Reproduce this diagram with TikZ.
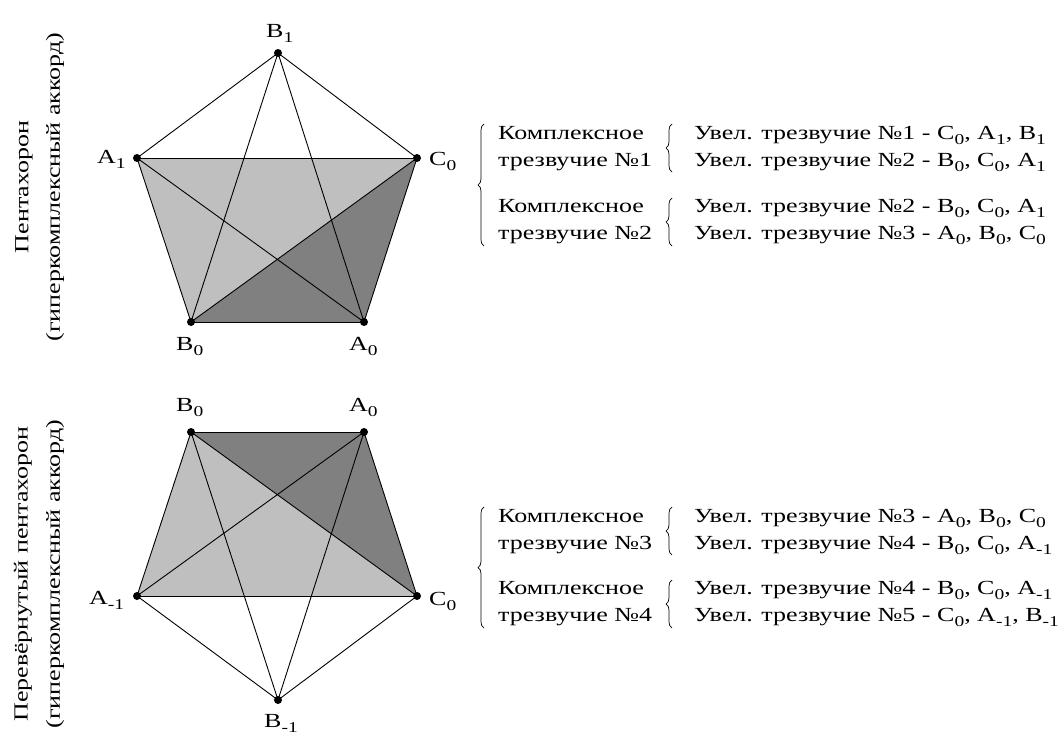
\documentclass[tikz,border=0pt]{standalone}
\usepackage{fontspec}
\setmainfont{Liberation Serif}
\usetikzlibrary{decorations.pathreplacing}
\newcommand\sbs[1]{\raisebox{-5pt}{\fontsize{15}{15}\selectfont #1}}
\newcommand\wide[1]{\scalebox{1.3}[1]{#1}}
\begin{document}
\begin{tikzpicture}[x=1pt,y=-1pt,
  lbl/.style={font=\fontsize{20}{22}\selectfont, inner sep=0pt, anchor=base west},
  txt/.style={font=\fontsize{20}{22}\selectfont, inner sep=0pt, anchor=base west, text height=13pt, text depth=5pt},
  vlbl/.style={font=\fontsize{20}{22}\selectfont, inner sep=0pt, rotate=90},
  edge/.style={line width=0.9pt, black},
  vdot/.style={circle, fill=black, inner sep=0pt, minimum size=8pt},
  brc/.style={decorate, decoration={brace, amplitude=6pt}, line width=0.7pt},
  light/.style={fill=black!25},
  dark/.style={fill=black!50}]
\useasboundingbox (0,0) rectangle (1062,737);
% ---------- top pentachoron
\coordinate (tB1) at (278,53);
\coordinate (tA1) at (137,158);
\coordinate (tC0) at (417,158);
\coordinate (tB0) at (191,322);
\coordinate (tA0) at (364,322);
\fill[light] (tA1) -- (tC0) -- (tB0) -- cycle;
\fill[dark] (tB0) -- (tA0) -- (tC0) -- cycle;
\foreach \a/\b in {tB1/tA1,tB1/tC0,tB1/tB0,tB1/tA0,tA1/tC0,tA1/tB0,tA1/tA0,tC0/tB0,tC0/tA0,tB0/tA0}
  \draw[edge] (\a) -- (\b);
\foreach \p in {tB1,tA1,tC0,tB0,tA0} \node[vdot] at (\p) {};
\node[lbl] (ltB1) at (266,37) {\wide{B\sbs{1}}};
\node[lbl] (ltA1) at (97,163) {\wide{A\sbs{1}}};
\node[lbl] (ltC0) at (429,165) {\wide{C\sbs{0}}};
\node[lbl] (ltB0) at (176,350) {\wide{B\sbs{0}}};
\node[lbl] (ltA0) at (349,350) {\wide{A\sbs{0}}};
\node[vlbl] (vt1) at (24,187) {\wide{Пентахорон}};
\node[vlbl] (vt2) at (55,187) {\wide{(гиперкомплексный аккорд)}};
% text top
\draw[brc] (484,246) -- (484,124);
\node[txt] (k1) at (498,139) {\wide{Комплексное}};
\node[txt] (k2) at (498,166) {\wide{трезвучие №1}};
\node[txt] (k3) at (498,212) {\wide{Комплексное}};
\node[txt] (k4) at (498,239) {\wide{трезвучие №2}};
\draw[brc] (672,172) -- (672,124);
\draw[brc] (672,246) -- (672,198);
\node[txt] (u1) at (694,139) {\wide{Увел. трезвучие №1 - C\sbs{0}, A\sbs{1}, B\sbs{1}}};
\node[txt] (u2) at (694,166) {\wide{Увел. трезвучие №2 - B\sbs{0}, C\sbs{0}, A\sbs{1}}};
\node[txt] (u3) at (694,212) {\wide{Увел. трезвучие №2 - B\sbs{0}, C\sbs{0}, A\sbs{1}}};
\node[txt] (u4) at (694,239) {\wide{Увел. трезвучие №3 - A\sbs{0}, B\sbs{0}, C\sbs{0}}};
% ---------- bottom pentachoron
\coordinate (bB0) at (191,432);
\coordinate (bA0) at (364,432);
\coordinate (bAm) at (137,596);
\coordinate (bC0) at (417,596);
\coordinate (bBm) at (278,700);
\fill[light] (bB0) -- (bC0) -- (bAm) -- cycle;
\fill[dark] (bB0) -- (bA0) -- (bC0) -- cycle;
\foreach \a/\b in {bBm/bAm,bBm/bC0,bBm/bB0,bBm/bA0,bAm/bC0,bAm/bB0,bAm/bA0,bC0/bB0,bC0/bA0,bB0/bA0}
  \draw[edge] (\a) -- (\b);
\foreach \p in {bB0,bA0,bAm,bC0,bBm} \node[vdot] at (\p) {};
\node[lbl] (lbB0) at (176,411) {\wide{B\sbs{0}}};
\node[lbl] (lbA0) at (349,411) {\wide{A\sbs{0}}};
\node[lbl] (lbAm) at (89,604) {\wide{A\sbs{-1}}};
\node[lbl] (lbC0) at (429,605) {\wide{C\sbs{0}}};
\node[lbl] (lbBm) at (264,727) {\wide{B\sbs{-1}}};
\node[vlbl] (vb1) at (23,574) {\wide{Перевёрнутый пентахорон}};
\node[vlbl] (vb2) at (55,574) {\wide{(гиперкомплексный аккорд)}};
% text bottom
\draw[brc] (484,628) -- (484,507);
\node[txt] (k5) at (498,522) {\wide{Комплексное}};
\node[txt] (k6) at (498,549) {\wide{трезвучие №3}};
\node[txt] (k7) at (498,594) {\wide{Комплексное}};
\node[txt] (k8) at (498,621) {\wide{трезвучие №4}};
\draw[brc] (672,555) -- (672,507);
\draw[brc] (672,628) -- (672,580);
\node[txt] (u5) at (694,522) {\wide{Увел. трезвучие №3 - A\sbs{0}, B\sbs{0}, C\sbs{0}}};
\node[txt] (u6) at (694,549) {\wide{Увел. трезвучие №4 - B\sbs{0}, C\sbs{0}, A\sbs{-1}}};
\node[txt] (u7) at (694,594) {\wide{Увел. трезвучие №4 - B\sbs{0}, C\sbs{0}, A\sbs{-1}}};
\node[txt] (u8) at (694,621) {\wide{Увел. трезвучие №5 - C\sbs{0}, A\sbs{-1}, B\sbs{-1}}};
\end{tikzpicture}
\end{document}
